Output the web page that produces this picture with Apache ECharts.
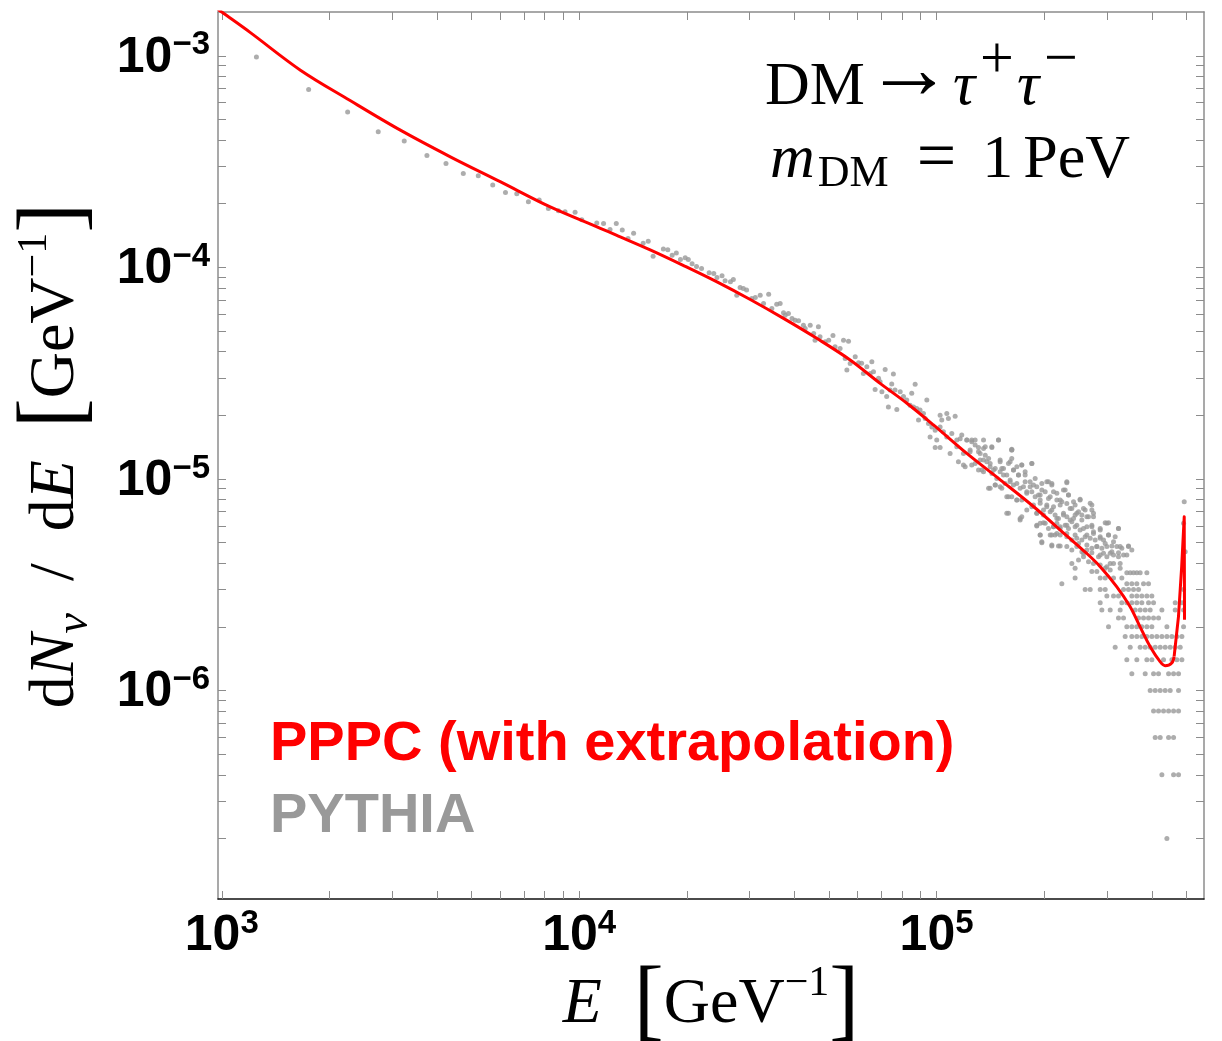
<!DOCTYPE html>
<html>
<head>
<meta charset="utf-8">
<script src="https://cdn.jsdelivr.net/npm/echarts@6/dist/echarts.min.js"></script>
<style>
  html, body { margin: 0; padding: 0; background: #fff; }
  #chart { width: 1222px; height: 1041px; }
</style>
</head>
<body>
<div id="chart"></div>
<script>
// PPPC curve (E in GeV, dN/dE in GeV^-1), smooth part and the end spike
const pppcSmooth = [
  [976, 1.66e-3], [1.0e3, 1.61e-3], [1.2e3, 1.29e-3], [1.66e3, 8.55e-4], [2.28e3, 6.16e-4],
  [3.16e3, 4.45e-4], [4.36e3, 3.33e-4], [6.01e3, 2.54e-4], [8.3e3, 1.93e-4], [1.146e4, 1.53e-4],
  [1.27e4, 1.42e-4], [1.58e4, 1.21e-4], [1.96e4, 1.02e-4], [2.43e4, 8.54e-5], [3.01e4, 7.05e-5],
  [3.73e4, 5.74e-5], [4.62e4, 4.62e-5], [5.73e4, 3.65e-5], [6.95e4, 2.83e-5], [8.26e4, 2.28e-5],
  [9.8e4, 1.8e-5], [1.215e5, 1.32e-5], [1.51e5, 9.88e-6], [1.87e5, 7.39e-6], [2.31e5, 5.4e-6],
  [2.63e5, 4.45e-6], [2.87e5, 3.85e-6], [3.19e5, 3.1e-6], [3.48e5, 2.49e-6], [3.71e5, 2.0e-6],
  [3.96e5, 1.61e-6], [4.22e5, 1.37e-6], [4.36e5, 1.31e-6], [4.55e5, 1.35e-6], [4.62e5, 1.45e-6]
];
const pppcSpike = [
  [4.62e5, 1.45e-6], [4.75e5, 2.23e-6], [4.85e5, 3.85e-6], [4.93e5, 6.63e-6], [4.94e5, 2.16e-6]
];

// PYTHIA points, low energy part
const pythiaLow = [
  [1.25e3, 9.87e-4], [1.75e3, 6.92e-4], [2.25e3, 5.43e-4], [2.74e3, 4.37e-4], [3.24e3, 3.96e-4],
  [3.75e3, 3.38e-4], [4.24e3, 3.1e-4], [4.74e3, 2.78e-4], [5.22e3, 2.71e-4], [5.73e3, 2.45e-4],
  [6.22e3, 2.26e-4], [6.69e3, 2.23e-4], [7.21e3, 2.04e-4], [7.73e3, 2.08e-4], [8.2e3, 1.9e-4],
  [8.75e3, 1.85e-4], [9.13e3, 1.83e-4], [9.74e3, 1.82e-4], [1.017e4, 1.68e-4], [1.12e4, 1.62e-4],
  [1.17e4, 1.61e-4], [1.22e4, 1.51e-4], [1.27e4, 1.61e-4], [1.32e4, 1.5e-4], [1.37e4, 1.37e-4],
  [1.42e4, 1.45e-4], [1.51e4, 1.3e-4], [1.56e4, 1.33e-4], [1.61e4, 1.13e-4], [1.72e4, 1.22e-4],
  [1.77e4, 1.21e-4], [1.82e4, 1.14e-4], [1.87e4, 1.17e-4], [1.92e4, 1.09e-4], [1.98e4, 1.11e-4],
  [2.02e4, 1.09e-4], [2.07e4, 1.04e-4], [2.13e4, 1.01e-4], [2.2e4, 9.88e-5], [2.31e4, 9.42e-5],
  [2.38e4, 9.35e-5], [2.43e4, 8.96e-5], [2.51e4, 9.12e-5], [2.56e4, 8.64e-5], [2.65e4, 8.54e-5],
  [2.7e4, 8.76e-5], [2.76e4, 7.39e-5], [2.82e4, 8.03e-5], [2.88e4, 7.95e-5], [2.94e4, 7.81e-5],
  [3.04e4, 7.13e-5], [3.11e4, 7.21e-5], [3.21e4, 7.39e-5], [3.28e4, 6.75e-5], [3.39e4, 7.47e-5],
  [3.46e4, 6.39e-5], [3.57e4, 6.7e-5], [3.65e4, 6.75e-5], [3.73e4, 6.1e-5], [3.77e4, 5.94e-5],
  [3.85e4, 6.05e-5], [3.94e4, 5.73e-5], [4.02e4, 5.63e-5], [4.11e4, 5.59e-5], [4.24e4, 5.33e-5],
  [4.29e4, 5.14e-5], [4.43e4, 5.33e-5], [4.53e4, 4.87e-5], [4.57e4, 4.53e-5], [4.67e4, 5.24e-5],
  [4.72e4, 4.7e-5], [4.88e4, 4.45e-5], [4.99e4, 4.53e-5], [5.13e4, 4.77e-5], [5.2e4, 4.21e-5],
  [5.37e4, 4.14e-5], [5.49e4, 4.53e-5], [5.67e4, 4.48e-5], [5.55e4, 3.71e-5], [5.73e4, 3.51e-5],
  [5.92e4, 3.78e-5], [6.05e4, 3.54e-5], [5.61e4, 3.27e-5]
];

// PYTHIA points, spread band above 6e4 GeV
const pythiaMid = [
  [6.17e4, 3.52e-5], [6.38e4, 3.39e-5], [6.59e4, 3.58e-5], [6.66e4, 3.21e-5], [6.52e4, 3.15e-5],
  [6.24e4, 3.15e-5], [6.88e4, 2.99e-5], [7.18e4, 3.29e-5], [7.57e4, 3.13e-5], [6.95e4, 2.88e-5],
  [7.49e4, 2.81e-5], [6.73e4, 2.65e-5], [7.03e4, 2.58e-5], [7.25e4, 2.45e-5], [7.41e4, 2.63e-5],
  [7.65e4, 2.63e-5], [7.91e4, 2.58e-5], [7.33e4, 2.19e-5], [7.74e4, 2.13e-5], [8.08e4, 2.45e-5],
  [8.25e4, 2.36e-5], [8.52e4, 2.54e-5], [8.71e4, 2.8e-5], [8.43e4, 2.23e-5], [8.62e4, 2.19e-5],
  [8.8e4, 2.15e-5], [8.99e4, 2.12e-5], [9.19e4, 2.04e-5], [9.39e4, 2.36e-5], [8.9e4, 1.9e-5],
  [9.29e4, 1.93e-5], [9.49e4, 1.83e-5], [9.7e4, 1.76e-5], [9.91e4, 1.7e-5], [1.023e5, 2.0e-5],
  [1.034e5, 1.9e-5], [1.068e5, 2.04e-5], [1.079e5, 1.93e-5], [1.127e5, 1.98e-5], [1.023e5, 1.76e-5],
  [1.045e5, 1.67e-5], [1.068e5, 1.58e-5], [1.103e5, 1.64e-5], [1.139e5, 1.53e-5], [1.164e5, 1.55e-5],
  [1.215e5, 1.53e-5], [1.254e5, 1.5e-5], [1.282e5, 1.53e-5], [1.353e5, 1.53e-5], [1.49e5, 1.53e-5],
  [9.91e4, 1.41e-5], [1.023e5, 1.41e-5], [1.139e5, 1.42e-5], [1.31e5, 1.41e-5], [1.368e5, 1.42e-5],
  [1.428e5, 1.41e-5], [1.623e5, 1.38e-5], [9.59e4, 1.58e-5], [1.001e5, 1.53e-5],
  [1.091e5, 1.32e-5], [1.241e5, 1.369e-5], [1.324e5, 1.32e-5], [1.353e5, 1.228e-5], [1.398e5, 1.25e-5],
  [1.151e5, 1.206e-5], [1.189e5, 1.163e-5], [1.254e5, 1.163e-5], [1.31e5, 1.102e-5], [1.353e5, 1.082e-5],
  [1.412e5, 1.142e-5], [1.428e5, 1.062e-5], [1.506e5, 1.206e-5], [1.459e5, 1.122e-5], [1.506e5, 1.082e-5],
  [1.539e5, 1.122e-5], [1.572e5, 1.043e-5], [1.606e5, 1.206e-5], [1.623e5, 1.369e-5], [1.641e5, 1.102e-5],
  [1.677e5, 1.142e-5], [1.695e5, 1.043e-5], [1.731e5, 1.163e-5], [1.769e5, 1.082e-5], [1.847e5, 1.184e-5],
  [1.398e5, 9.03e-6], [1.459e5, 9.36e-6], [1.506e5, 9.19e-6], [1.555e5, 9.53e-6], [1.606e5, 9.88e-6],
  [1.641e5, 9.36e-6], [1.572e5, 8.24e-6], [1.623e5, 8.24e-6], [1.677e5, 7.95e-6], [1.713e5, 9.03e-6],
  [1.769e5, 9.7e-6], [1.788e5, 8.7e-6], [1.827e5, 9.19e-6], [1.867e5, 9.36e-6], [1.887e5, 8.24e-6],
  [1.949e5, 8.39e-6], [1.97e5, 8.86e-6], [2.034e5, 9.7e-6], [2.101e5, 9.53e-6], [2.056e5, 8.09e-6],
  [2.124e5, 8.7e-6], [2.17e5, 7.95e-6], [2.241e5, 7.81e-6], [2.289e5, 8.86e-6], [2.314e5, 9.7e-6],
  [2.339e5, 8.39e-6], [2.416e5, 7.81e-6], [2.521e5, 8.01e-6],
  [1.589e5, 6.88e-6], [1.713e5, 6.51e-6], [1.788e5, 7.13e-6], [1.847e5, 7.39e-6], [1.907e5, 6.88e-6],
  [1.949e5, 7.67e-6], [1.991e5, 7.13e-6], [2.034e5, 7.39e-6], [2.101e5, 7.13e-6], [2.146e5, 6.75e-6],
  [2.193e5, 6.51e-6], [2.265e5, 6.88e-6], [2.314e5, 6.63e-6], [2.364e5, 7.26e-6], [2.416e5, 6.51e-6],
  [2.468e5, 6.88e-6], [2.549e5, 6.75e-6], [2.604e5, 7.13e-6], [2.633e5, 6.63e-6], [2.69e5, 7.67e-6],
  [2.719e5, 7.13e-6], [2.748e5, 6.63e-6],
  [1.907e5, 5.99e-6], [1.949e5, 6.17e-6], [1.991e5, 6.21e-6], [2.056e5, 5.84e-6], [2.124e5, 5.95e-6],
  [2.17e5, 6.17e-6], [2.217e5, 5.84e-6], [2.289e5, 6.05e-6], [2.339e5, 5.84e-6], [2.39e5, 6.28e-6],
  [2.468e5, 6.05e-6], [2.521e5, 5.74e-6], [2.633e5, 5.95e-6], [2.719e5, 6.05e-6], [2.748e5, 5.63e-6],
  [2.869e5, 5.84e-6], [2.963e5, 6.21e-6], [3.027e5, 6.21e-6], [3.228e5, 5.84e-6],
  [1.949e5, 5.43e-6], [1.97e5, 5.0e-6], [2.101e5, 5.43e-6], [2.146e5, 5.43e-6], [2.217e5, 5.43e-6],
  [2.314e5, 5.33e-6], [2.39e5, 5.14e-6], [2.468e5, 5.24e-6], [2.549e5, 5.14e-6], [2.633e5, 5.43e-6],
  [2.69e5, 5.24e-6], [2.778e5, 5.14e-6], [2.869e5, 5.33e-6], [2.931e5, 5.14e-6], [3.027e5, 5.43e-6],
  [3.126e5, 5.05e-6],
  [2.101e5, 4.82e-6], [2.193e5, 4.82e-6], [2.314e5, 4.79e-6], [2.39e5, 4.61e-6], [2.468e5, 4.79e-6],
  [2.549e5, 4.53e-6], [2.633e5, 4.61e-6], [2.719e5, 4.7e-6], [2.808e5, 4.79e-6], [2.9e5, 4.7e-6],
  [2.995e5, 4.79e-6], [3.093e5, 4.53e-6], [3.194e5, 4.79e-6], [3.298e5, 4.7e-6], [3.443e5, 4.82e-6],
  [2.39e5, 3.99e-6], [2.441e5, 3.78e-6], [2.495e5, 4.14e-6], [2.577e5, 4.29e-6], [2.661e5, 4.06e-6],
  [2.748e5, 3.99e-6], [2.838e5, 4.29e-6], [2.931e5, 4.45e-6], [2.995e5, 4.29e-6], [3.126e5, 4.37e-6],
  [3.228e5, 4.29e-6], [3.334e5, 4.37e-6], [3.263e5, 3.99e-6], [3.126e5, 3.99e-6], [3.06e5, 3.99e-6],
  [2.995e5, 3.85e-6], [2.869e5, 3.92e-6], [2.719e5, 3.65e-6], [2.808e5, 3.65e-6], [2.963e5, 3.78e-6],
  [3.06e5, 3.71e-6], [3.263e5, 3.78e-6],
  [4.93e5, 7.81e-6], [4.909e5, 6.17e-6], [4.961e5, 4.53e-6], [4.909e5, 3.0e-6]
];

// PYTHIA points, densest part of the band (1.2e5 - 3.5e5 GeV)
const pythiaBand = [
  [1.176e5, 1.612e-5], [1.215e5, 1.526e-5], [1.254e5, 1.526e-5], [1.282e5, 1.446e-5], [1.189e5, 1.32e-5],
  [1.241e5, 1.344e-5], [1.31e5, 1.344e-5], [1.353e5, 1.394e-5], [1.368e5, 1.296e-5], [1.427e5, 1.42e-5],
  [1.49e5, 1.526e-5], [1.324e5, 1.228e-5], [1.382e5, 1.206e-5], [1.282e5, 1.184e-5], [1.202e5, 1.142e-5],
  [1.338e5, 1.102e-5], [1.412e5, 1.184e-5], [1.443e5, 1.102e-5], [1.506e5, 1.228e-5], [1.522e5, 1.122e-5],
  [1.589e5, 1.184e-5], [1.623e5, 1.369e-5], [1.623e5, 1.25e-5], [1.641e5, 1.102e-5], [1.731e5, 1.163e-5],
  [1.695e5, 1.043e-5], [1.769e5, 1.043e-5], [1.847e5, 1.184e-5], [1.539e5, 1.043e-5], [1.474e5, 1.006e-5],
  [1.412e5, 9.03e-6], [1.459e5, 9.36e-6], [1.522e5, 9.03e-6], [1.606e5, 9.7e-6], [1.677e5, 9.53e-6],
  [1.75e5, 9.19e-6], [1.827e5, 9.7e-6], [1.887e5, 1.006e-5], [1.907e5, 9.19e-6], [1.97e5, 9.53e-6],
  [2.056e5, 9.7e-6], [2.101e5, 9.36e-6], [2.314e5, 9.6e-6], [1.788e5, 8.55e-6], [1.847e5, 8.7e-6],
  [1.928e5, 8.39e-6], [2.013e5, 8.7e-6], [2.079e5, 8.24e-6], [2.17e5, 8.55e-6], [2.217e5, 7.95e-6],
  [2.265e5, 8.86e-6], [2.339e5, 8.39e-6], [2.441e5, 7.53e-6], [2.521e5, 7.95e-6], [1.589e5, 8.24e-6],
  [1.677e5, 7.95e-6], [1.731e5, 7.95e-6], [1.867e5, 7.53e-6], [1.949e5, 7.95e-6], [2.034e5, 7.53e-6],
  [2.124e5, 7.39e-6], [2.217e5, 7.53e-6], [2.314e5, 7.66e-6], [2.39e5, 7.26e-6], [2.495e5, 7.0e-6],
  [2.576e5, 7.26e-6], [2.719e5, 7.53e-6], [1.572e5, 6.88e-6], [1.731e5, 6.63e-6], [1.713e5, 6.39e-6],
  [1.907e5, 6.88e-6], [1.991e5, 6.75e-6], [2.079e5, 7.0e-6], [2.17e5, 6.51e-6], [2.265e5, 6.75e-6],
  [2.364e5, 6.39e-6], [2.441e5, 6.75e-6], [2.549e5, 6.39e-6], [2.661e5, 6.63e-6], [2.748e5, 6.88e-6],
  [1.907e5, 6.05e-6], [2.013e5, 6.17e-6], [2.124e5, 5.94e-6], [2.217e5, 5.94e-6], [2.314e5, 6.05e-6],
  [2.441e5, 5.94e-6], [2.576e5, 5.84e-6], [2.719e5, 5.94e-6], [2.869e5, 5.74e-6], [2.995e5, 6.17e-6],
  [3.228e5, 5.84e-6], [1.949e5, 5.43e-6], [2.079e5, 5.43e-6], [2.17e5, 5.53e-6], [2.314e5, 5.53e-6],
  [2.441e5, 5.43e-6], [2.604e5, 5.33e-6], [2.748e5, 5.53e-6], [2.869e5, 5.24e-6], [3.027e5, 5.43e-6],
  [3.16e5, 5.33e-6], [1.97e5, 5.05e-6], [2.101e5, 4.87e-6], [2.217e5, 4.82e-6], [2.495e5, 4.96e-6],
  [2.633e5, 4.87e-6], [2.808e5, 4.79e-6], [2.963e5, 4.96e-6], [3.093e5, 4.82e-6], [3.263e5, 4.79e-6],
  [3.443e5, 4.79e-6], [3.518e5, 4.61e-6], [2.576e5, 4.45e-6], [2.719e5, 4.48e-6], [2.869e5, 4.37e-6],
  [3.06e5, 4.45e-6], [3.228e5, 4.48e-6], [3.406e5, 4.37e-6]
];

// PYTHIA points that fall on discrete levels at the highest energies
const rowLevels = [3.6e-6, 3.4e-6, 3.2e-6, 3.0e-6, 2.8e-6, 2.6e-6, 2.4e-6, 2.2e-6, 2.0e-6,
  1.8e-6, 1.6e-6, 1.4e-6, 1.2e-6, 1.0e-6, 8e-7, 6e-7, 4e-7, 2e-7];
const rowEnergies = [
  [3.406e5, 3.481e5, 3.556e5, 3.633e5, 3.712e5, 3.875e5],
  [2.441e5, 2.869e5, 2.963e5, 3.126e5, 3.298e5],
  [2.241e5, 3.406e5, 3.518e5, 3.633e5, 3.793e5, 3.917e5],
  [2.604e5, 2.69e5, 2.869e5, 2.963e5, 3.334e5, 3.443e5, 3.556e5, 3.673e5],
  [2.995e5, 3.126e5, 3.228e5, 3.518e5, 3.633e5, 3.752e5, 3.875e5, 4.002e5],
  [2.869e5, 3.298e5, 3.406e5, 3.518e5, 3.633e5, 3.752e5, 3.917e5, 4.046e5, 4.652e5, 4.857e5],
  [2.9e5, 3.06e5, 3.263e5, 3.594e5, 3.712e5, 3.834e5, 3.959e5, 4.269e5, 4.652e5, 4.909e5],
  [3.228e5, 3.334e5, 3.673e5, 3.793e5, 3.917e5, 4.046e5, 4.178e5],
  [3.027e5, 3.406e5, 3.518e5, 3.633e5, 3.752e5, 3.875e5, 4.002e5, 4.409e5, 4.909e5],
  [3.37e5, 3.518e5, 3.633e5, 3.752e5, 3.875e5, 4.002e5, 4.133e5, 4.269e5, 4.409e5, 4.553e5, 4.702e5, 4.857e5],
  [3.16e5, 3.481e5, 3.712e5, 3.834e5, 3.959e5, 4.089e5, 4.223e5, 4.361e5, 4.504e5, 4.652e5, 4.804e5],
  [3.406e5, 3.633e5, 3.875e5, 4.002e5, 4.315e5, 4.553e5, 4.702e5, 4.857e5],
  [3.518e5, 3.834e5, 4.046e5, 4.178e5, 4.457e5, 4.603e5, 4.753e5],
  [3.959e5, 4.089e5, 4.223e5, 4.361e5, 4.504e5, 4.753e5],
  [4.046e5, 4.178e5, 4.315e5, 4.457e5, 4.603e5, 4.753e5],
  [4.089e5, 4.223e5, 4.457e5, 4.603e5],
  [4.269e5, 4.603e5, 4.753e5],
  [4.409e5]
];

// axis ranges and ticks
const eMin = 976, eMax = 5.6e5;
const yMin = 1.035e-7, yMax = 1.61e-3;
const xLabelValues = [1e3, 1e4, 1e5];
const xTickValues = [1e3, 2e3, 3e3, 4e3, 5e3, 6e3, 7e3, 8e3, 9e3,
  1e4, 2e4, 3e4, 4e4, 5e4, 6e4, 7e4, 8e4, 9e4, 1e5, 2e5, 3e5, 4e5, 5e5];
const yLabelValues = [1e-6, 1e-5, 1e-4, 1e-3];
const yTickValues = [2e-7, 3e-7, 4e-7, 5e-7, 6e-7, 7e-7, 8e-7, 9e-7,
  1e-6, 2e-6, 3e-6, 4e-6, 5e-6, 6e-6, 7e-6, 8e-6, 9e-6,
  1e-5, 2e-5, 3e-5, 4e-5, 5e-5, 6e-5, 7e-5, 8e-5, 9e-5,
  1e-4, 2e-4, 3e-4, 4e-4, 5e-4, 6e-4, 7e-4, 8e-4, 9e-4, 1e-3];

const rowPoints = [];
rowLevels.forEach(function (lvl, i) {
  rowEnergies[i].forEach(function (e) { rowPoints.push([e, lvl]); });
});
const pythiaAll = pythiaLow.concat(pythiaMid, pythiaBand, rowPoints);

const sans = 'Liberation Sans';
const serif = 'Liberation Serif';

const tickRich = {
  b: { fontFamily: sans, fontWeight: 'bold', fontSize: 50, lineHeight: 54, verticalAlign: 'bottom', color: '#000' },
  s: { fontFamily: sans, fontWeight: 'bold', fontSize: 33, lineHeight: 32, verticalAlign: 'top', color: '#000' }
};
function powLabel(v) {
  var p = Math.round(Math.log10(v));
  return '{b|10}{s|' + (p < 0 ? '\u2212' + (-p) : p) + '}';
}

const nameRich = {
  r: { fontFamily: serif, fontSize: 64, lineHeight: 84, color: '#000' },
  i: { fontFamily: serif, fontStyle: 'italic', fontSize: 64, lineHeight: 84, color: '#000' },
  br: { fontFamily: serif, fontSize: 90, lineHeight: 84, color: '#000' },
  sp: { fontFamily: serif, fontSize: 42, lineHeight: 42, verticalAlign: 'top', color: '#000' },
  sb: { fontFamily: serif, fontStyle: 'italic', fontSize: 46, lineHeight: 46, verticalAlign: 'bottom', color: '#000' }
};
// "DM -> tau+ tau-"
const annRich1 = {
  r: { fontFamily: serif, fontSize: 62, lineHeight: 113, fill: '#000' },
  i: { fontFamily: serif, fontStyle: 'italic', fontSize: 62, lineHeight: 113, fill: '#000' },
  ar: { fontFamily: serif, fontSize: 88, verticalAlign: 'top', fill: '#000' },
  sp: { fontFamily: serif, fontSize: 60, verticalAlign: 'top', fill: '#000', padding: [0, 3, 0, 5] }
};
// "m_DM = 1 PeV"
const annRich2 = {
  r: { fontFamily: serif, fontSize: 62, lineHeight: 70, fill: '#000' },
  i: { fontFamily: serif, fontStyle: 'italic', fontSize: 62, lineHeight: 70, fill: '#000' },
  sb: { fontFamily: serif, fontSize: 44, verticalAlign: 'bottom', fill: '#000', padding: [0, 28, 0, 3] },
  eq: { fontFamily: serif, fontSize: 70, lineHeight: 70, fill: '#000', padding: [0, 26, 0, 0] },
  one: { fontFamily: serif, fontSize: 62, lineHeight: 70, fill: '#000', padding: [0, 10, 0, 0] }
};

function mirrorAxis(pos, min, max, ticks) {
  return {
    type: 'log', logBase: 10, position: pos, min: min, max: max,
    axisLine: { show: true, lineStyle: { color: '#8c8c8c', width: 1.5 } },
    axisTick: { show: true, inside: true, length: 8, customValues: ticks, lineStyle: { color: '#8c8c8c', width: 1 } },
    axisLabel: { show: false },
    splitLine: { show: false }
  };
}

const chart = echarts.init(document.getElementById('chart'), null, { renderer: 'canvas' });
chart.setOption({
  animation: false,
  backgroundColor: '#fff',
  grid: { left: 218, right: 18, top: 12, bottom: 142, containLabel: false, outerBoundsMode: 'none' },
  xAxis: [{
    type: 'log', logBase: 10, position: 'bottom', min: eMin, max: eMax,
    axisLine: { show: true, lineStyle: { color: '#111', width: 1.5 } },
    axisTick: { show: true, inside: true, length: 8, customValues: xTickValues, lineStyle: { color: '#8c8c8c', width: 1 } },
    axisLabel: { customValues: xLabelValues, formatter: powLabel, margin: 8, rich: tickRich },
    splitLine: { show: false },
    name: '{i|E}{r|  }{br|[}{r|GeV}{sp|\u22121}{br|]}',
    nameLocation: 'middle', nameGap: 64, nameMoveOverlap: false,
    nameTextStyle: { rich: nameRich }
  }, mirrorAxis('top', eMin, eMax, xTickValues)],
  yAxis: [{
    type: 'log', logBase: 10, position: 'left', min: yMin, max: yMax,
    axisLine: { show: true, lineStyle: { color: '#8c8c8c', width: 1.5 } },
    axisTick: { show: true, inside: true, length: 8, customValues: yTickValues, lineStyle: { color: '#8c8c8c', width: 1 } },
    axisLabel: { customValues: yLabelValues, formatter: powLabel, margin: 8, rich: tickRich },
    splitLine: { show: false },
    name: '{r|d}{i|N}{sb|\u03bd}{r|  /  d}{i|E}{r|  }{br|[}{r|GeV}{sp|\u22121}{br|]}',
    nameLocation: 'middle', nameRotate: 90, nameGap: 120, nameMoveOverlap: false,
    nameTextStyle: { rich: nameRich }
  }, mirrorAxis('right', yMin, yMax, yTickValues)],
  graphic: [
    { type: 'text', left: 765, top: 31, silent: true,
      style: { text: '{r|DM}{ar|\u2192}{i|\u03c4}{sp|+}{i|\u03c4}{sp|\u2212}', rich: annRich1 } },
    { type: 'text', left: 770, top: 126, silent: true,
      style: { text: '{i|m}{sb|DM}{eq|=}{one|1}{r|PeV}', rich: annRich2 } },
    { type: 'text', left: 270, top: 717, silent: true,
      style: { text: 'PPPC (with extrapolation)', fill: '#ff0000', font: 'bold 56px "Liberation Sans"' } },
    { type: 'text', left: 270, top: 789, silent: true,
      style: { text: 'PYTHIA', fill: '#999999', font: 'bold 56px "Liberation Sans"' } }
  ],
  series: [{
    name: 'PYTHIA', type: 'scatter', data: pythiaAll,
    symbol: 'circle', symbolSize: 5, silent: true, z: 2,
    itemStyle: { color: '#999999' }
  }, {
    name: 'PPPC (with extrapolation)', type: 'line', data: pppcSmooth,
    showSymbol: false, smooth: 0.35, silent: true, z: 3, clip: true,
    lineStyle: { color: '#ff0000', width: 3 }
  }, {
    name: 'PPPC spike', type: 'line', data: pppcSpike,
    showSymbol: false, smooth: false, silent: true, z: 3, clip: true,
    lineStyle: { color: '#ff0000', width: 3, join: 'round' }
  }]
});
</script>
</body>
</html>
